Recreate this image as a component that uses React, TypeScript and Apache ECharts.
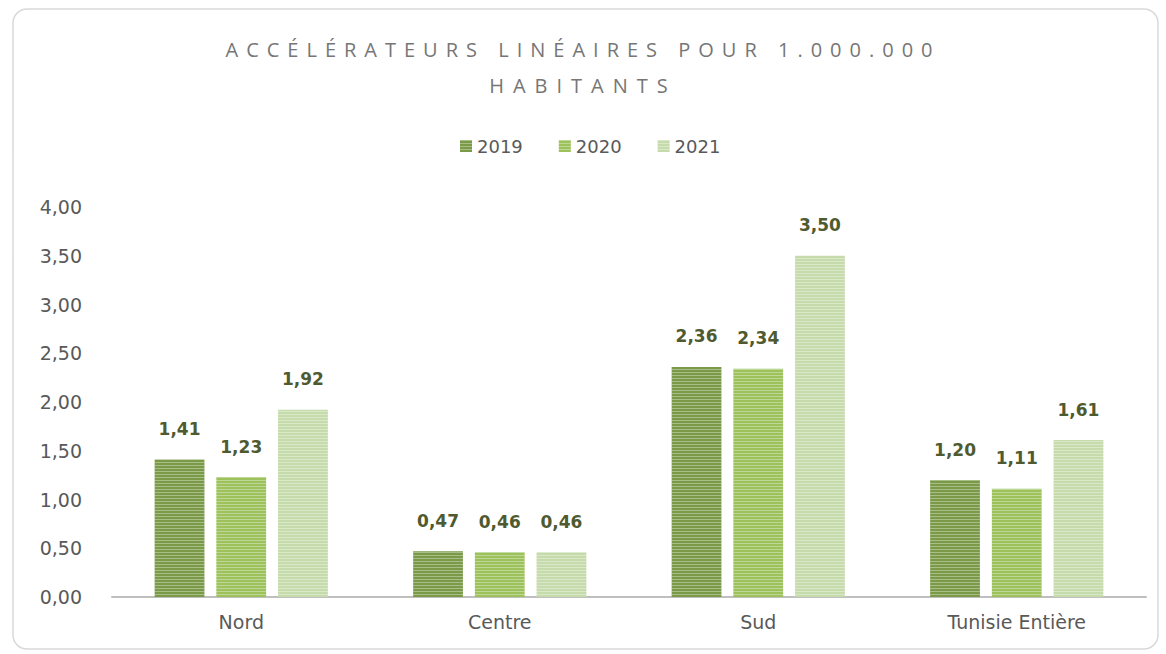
import React, { useEffect, useRef } from "react";
import * as echarts from "echarts";

const categories = ["Nord", "Centre", "Sud", "Tunisie Entière"];
const seriesNames = ["2019", "2020", "2021"];
const values2019 = [1.41, 0.47, 2.36, 1.2];
const values2020 = [1.23, 0.46, 2.34, 1.11];
const values2021 = [1.92, 0.46, 3.5, 1.61];
const barColors = ["#7a9a47", "#9dc25c", "#c6dbab"];
const titleLines = ["ACCÉLÉRATEURS LINÉAIRES POUR 1.000.000", "HABITANTS"];

const fmt = (v: number) => v.toFixed(2).replace(".", ",");

export default function App() {
  const ref = useRef<HTMLDivElement>(null);
  useEffect(() => {
    document.body.style.margin = "0";
    if (!ref.current) return;
    const chart = echarts.init(ref.current, null, { renderer: "svg" });
    const allValues = [values2019, values2020, values2021];
    chart.setOption({
      animation: false,
      backgroundColor: "#ffffff",
      graphic: [
        {
          type: "rect",
          shape: { x: 13, y: 9, width: 1145, height: 640, r: 14 },
          style: { fill: "none", stroke: "#d9d9d9", lineWidth: 1.5 },
          silent: true,
        },
      ],
      title: {
        text: titleLines.join("\n"),
        left: "center",
        top: 26,
        textStyle: {
          fontFamily: "Open Sans",
          fontSize: 20,
          fontWeight: "normal",
          color: "#767676",
          lineHeight: 36,
        },
      },
      legend: {
        top: 132,
        left: 455,
        itemWidth: 12,
        itemHeight: 12,
        itemGap: 36,
        icon: "rect",
        textStyle: { fontFamily: "DejaVu Sans", fontSize: 18, color: "#595959" },
        data: seriesNames,
      },
      grid: { left: 112, right: 20, top: 207, bottom: 57 },
      xAxis: {
        type: "category",
        data: categories,
        axisLine: { lineStyle: { color: "#bfbfbf", width: 2 } },
        axisTick: { show: false },
        axisLabel: { fontFamily: "DejaVu Sans", fontSize: 19, color: "#595959", margin: 15 },
      },
      yAxis: {
        type: "value",
        min: 0,
        max: 4,
        interval: 0.5,
        splitLine: { show: false },
        axisLine: { show: false },
        axisTick: { show: false },
        axisLabel: {
          fontFamily: "DejaVu Sans",
          fontSize: 19,
          color: "#595959",
          margin: 30,
          formatter: (v: number) => fmt(v),
        },
      },
      series: seriesNames.map((name, i) => ({
        name,
        type: "bar",
        data: allValues[i],
        barGap: "24%",
        barCategoryGap: "33%",
        itemStyle: {
          color: barColors[i],
          decal: {
            symbol: "rect",
            symbolSize: 1,
            dashArrayX: [1, 0],
            dashArrayY: [1, 2],
            rotation: 0,
            color: "rgba(255,255,255,0.35)",
          },
        },
        label: {
          show: true,
          position: "top",
          distance: 22,
          fontFamily: "DejaVu Sans",
          fontWeight: "bold",
          fontSize: 17,
          color: "#4f5a30",
          formatter: (p: any) => fmt(p.value),
        },
      })),
    });
    const applySpacing = () => {
      const texts = ref.current?.querySelectorAll("text") || [];
      texts.forEach((t: any) => {
        const c = t.textContent || "";
        if (c === titleLines[0]) t.setAttribute("letter-spacing", "8");
        if (c === titleLines[1]) t.setAttribute("letter-spacing", "9");
      });
    };
    applySpacing();
    return () => chart.dispose();
  }, []);
  return <div ref={ref} style={{ width: 1166, height: 654 }} />;
}
